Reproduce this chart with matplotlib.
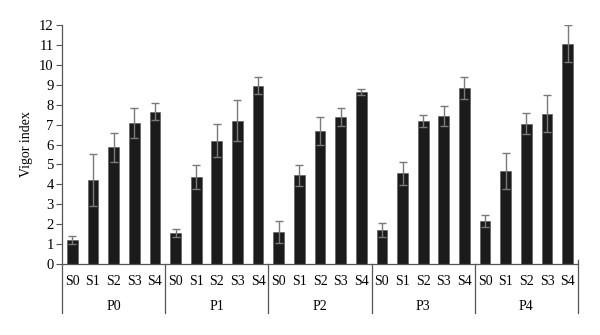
import matplotlib
matplotlib.use("Agg")
import matplotlib.pyplot as plt
import matplotlib.transforms as mtransforms
import numpy as np

groups = ["P0", "P1", "P2", "P3", "P4"]
subs = ["S0", "S1", "S2", "S3", "S4"]
values = [
    [1.2, 4.2, 5.85, 7.1, 7.65],
    [1.55, 4.35, 6.2, 7.2, 8.95],
    [1.6, 4.45, 6.7, 7.4, 8.65],
    [1.7, 4.55, 7.2, 7.45, 8.85],
    [2.15, 4.65, 7.05, 7.55, 11.05],
]
errors = [
    [0.2, 1.3, 0.72, 0.75, 0.42],
    [0.2, 0.6, 0.85, 1.02, 0.43],
    [0.55, 0.52, 0.7, 0.45, 0.15],
    [0.35, 0.56, 0.3, 0.5, 0.56],
    [0.3, 0.9, 0.52, 0.92, 0.93],
]

plt.rcParams['font.family'] = ['Liberation Serif', 'DejaVu Serif']
FS = 10.5
FSX = 10

fig = plt.figure(figsize=(6, 3.35), dpi=100)
ax = fig.add_axes([62/600, 1-264/335, (578-62)/600, (264-25)/335])

vals = np.array(values).ravel()
errs = np.array(errors).ravel()
x = np.arange(len(vals))
ax.bar(x, vals, width=0.52, color='#1b1b1b', edgecolor='#555555', linewidth=0.4,
       yerr=errs, error_kw=dict(ecolor='#7a7a7a', elinewidth=1.0, capsize=2.8, capthick=1.0))

ax.set_xlim(-0.5, len(vals) - 0.5)
ax.set_ylim(0, 12)
ax.set_yticks(range(0, 13))
ax.tick_params(axis='y', direction='out', length=4, width=0.8, color='#555555', labelsize=FS, pad=2)
ax.set_xticks(x)
ax.set_xticklabels(subs * len(groups), fontsize=FSX)
ax.tick_params(axis='x', length=0, pad=8)

for s in ['top', 'right']:
    ax.spines[s].set_visible(False)
for s in ['left', 'bottom']:
    ax.spines[s].set_color('#555555')
    ax.spines[s].set_linewidth(0.9)

trans = mtransforms.blended_transform_factory(ax.transData, ax.transAxes)
sep_bottom = -49/239
for i in range(len(groups) + 1):
    xs = i * len(subs) - 0.5
    top = 0.0 if i < len(groups) else 4/239
    ax.plot([xs, xs], [sep_bottom, top], transform=trans, color='#555555',
            linewidth=0.9, clip_on=False)
for i, g in enumerate(groups):
    ax.text(i * len(subs) + 2, -42/239, g, transform=trans, ha='center', va='center',
            fontsize=FSX)

ax.set_ylabel("Vigor index", fontsize=FSX, labelpad=4)

fig.savefig("out.png", dpi=100)
